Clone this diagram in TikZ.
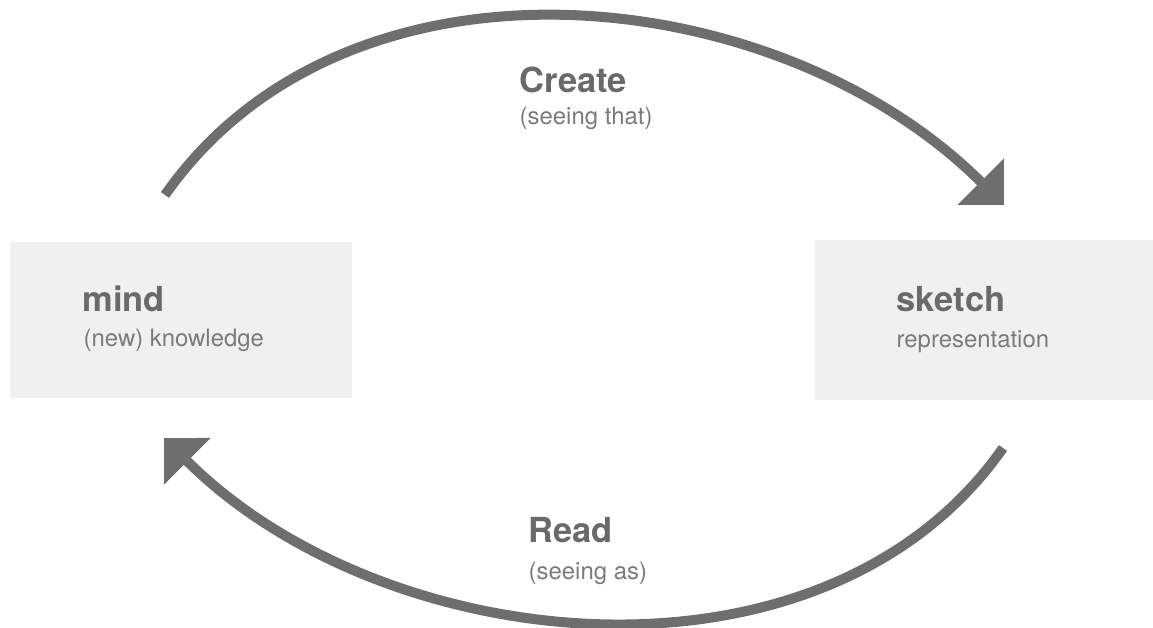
\documentclass[tikz,border=0pt]{standalone}
\usepackage{fontspec}
\setmainfont{TeX Gyre Heros}
\usetikzlibrary{arrows.meta,positioning}
\definecolor{arcgray}{HTML}{6E6E6E}
\definecolor{panelgray}{HTML}{F0F0F0}
\definecolor{titlegray}{HTML}{6A6A6A}
\definecolor{subgray}{HTML}{7A7A7A}

\begin{document}
\begin{tikzpicture}[x=0.01cm,y=0.01cm,every node/.style={inner sep=0pt},
  panel/.style={fill=panelgray,minimum width=3.42cm,minimum height=1.56cm},
  headline/.style={anchor=base west,font=\fontsize{9.8}{12}\selectfont\bfseries,text=titlegray},
  subline/.style={anchor=base west,font=\fontsize{6.8}{8}\selectfont,text=subgray},
  looparrow/.style={line width=0.1cm,draw=arcgray,-{Triangle[length=0.33cm,width=0.64cm]}}]
\useasboundingbox (0,0) rectangle (1153,628);
% the two panels
\node[panel] (mindbox) at (181,308) {};
\node[panel,minimum width=3.38cm,minimum height=1.6cm] (sketchbox) at (984,308) {};
\node[headline] (mind) at (82,316) {mind};
\node[subline] (mindsub) at (83,281) {(new) knowledge};
\node[headline] (sketch) at (896,316) {sketch};
\node[subline] (sketchsub) at (896,280) {representation};
% loose ends of the arcs
\coordinate (createstart) at (165,433);
\coordinate (createend) at (1004,423);
\coordinate (readstart) at (1003,180);
\coordinate (readend) at (164,190);
\draw[looparrow] (createstart) to[out=55,in=135,looseness=0.97] (createend);
\draw[looparrow] (readstart) to[out=235,in=-45,looseness=0.95] (readend);
\node[headline] (create) at (519,535) {Create};
\node[subline] (createsub) at (519,503) {(seeing that)};
\node[headline] (read) at (528,85) {Read};
\node[subline] (readsub) at (528,48) {(seeing as)};
\end{tikzpicture}
\end{document}
